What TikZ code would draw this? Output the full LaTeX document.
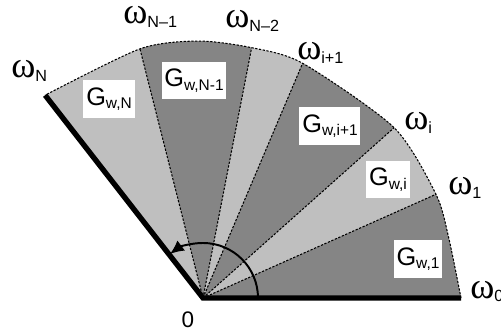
\documentclass[tikz,border=0pt]{standalone}
\usepackage{fontspec}
\setmainfont{Liberation Sans}
\newfontfamily\omfont{Liberation Serif}
\usetikzlibrary{arrows.meta}
\definecolor{darksec}{gray}{0.52}
\definecolor{lightsec}{gray}{0.75}
% labels G_{w,k} and omega_k
\newcommand\glbl[1]{G\raisebox{-0.25ex}{\fontsize{11}{11}\selectfont w,#1}}
\newcommand\wlbl[1]{\smash{\omfont\fontsize{26}{26}\selectfont ω}\raisebox{-0.5ex}{\fontsize{11.5}{11.5}\selectfont #1}}
\tikzset{
  sector/.style={dash pattern=on 1.6pt off 1.1pt, line width=0.75pt},
  gbox/.style={fill=white, inner xsep=2pt, minimum height=0.93cm, font=\fontsize{18}{18}\selectfont},
  wlabel/.style={anchor=base west, inner sep=0pt}
}
\begin{document}
\begin{tikzpicture}[x=0.025cm, y=0.025cm]
  \useasboundingbox (-203,-38) rectangle (298,298);
  % Rim points
  \coordinate (O) at (0,0);
  \coordinate (w0) at (0:258);
  \coordinate (w1) at (24:255);
  \coordinate (wi) at (41.7:256);
  \coordinate (wi1) at (67:255);
  \coordinate (wN2) at (79:255);
  \coordinate (wN1) at (104.2:257);
  \coordinate (wN) at (127.9:257);

  % Sectors
  \begin{scope}
    \clip (O) -- plot[smooth, tension=0.45] coordinates {(w0) (14:253) (w1) (wi) (wi1) (wN2) (91:257) (wN1) (wN)} -- cycle;
    \fill[lightsec] (O) circle[radius=8cm];
    \fill[darksec] (O) -- (0:320) -- (24:320) -- cycle;
    \fill[darksec] (O) -- (41.7:320) -- (67:320) -- cycle;
    \fill[darksec] (O) -- (79:320) -- (104.2:320) -- cycle;
  \end{scope}

  % Dashed rim and rays
  \draw[sector] (w0) -- plot[smooth, tension=0.45] coordinates {(w0) (14:253) (w1) (wi) (wi1) (wN2) (91:257) (wN1) (wN)};
  \foreach \p in {w1, wi, wi1, wN2, wN1}
    \draw[sector] (O) -- (\p);

  % Bounding rays
  \draw[line width=3.8pt] (w0) -- (O) -- (wN);

  % Angle arrow
  \draw[line width=1.4pt, -{Latex[length=10pt, width=9pt]}] (55,0) arc[start angle=0, end angle=127, radius=1.375cm];

  % Sector labels
  \node[gbox] (gN) at (-94,199) {\glbl{N}};
  \node[gbox] (gN1) at (-9,217.5) {\glbl{N-1}};
  \node[gbox] (gi1) at (127,172) {\glbl{i+1}};
  \node[gbox] (gi) at (185,118.5) {\glbl{i}};
  \node[gbox] (g1) at (215,39) {\glbl{1}};

  % Rim labels
  \node[wlabel] (lN) at (-192,220) {\wlbl{N}};
  \node[wlabel] (lN1) at (-80,274) {\wlbl{N–1}};
  \node[wlabel] (lN2) at (22,270) {\wlbl{N–2}};
  \node[wlabel] (li1) at (94,238) {\wlbl{i+1}};
  \node[wlabel] (li) at (201,168) {\wlbl{i}};
  \node[wlabel] (l1) at (245,103) {\wlbl{1}};
  \node[wlabel] (l0) at (267,0) {\wlbl{0}};
  \node[font=\fontsize{16}{16}\selectfont] (zero) at (-15,-22) {0};
\end{tikzpicture}
\end{document}
